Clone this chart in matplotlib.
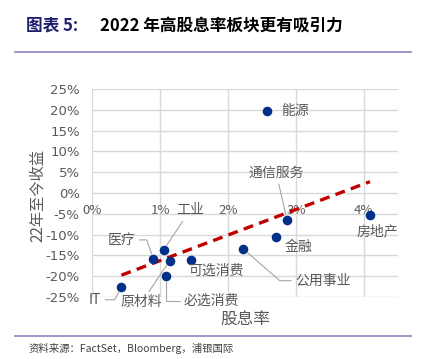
import numpy as np
import matplotlib
matplotlib.use('Agg')
from matplotlib import pyplot as plt
from matplotlib.ticker import FuncFormatter

plt.rcParams['font.family'] = ['Noto Sans CJK SC', 'DejaVu Sans']

# sector, dividend yield (%), 2022 YTD return (%)
sectors = ['能源', '通信服务', '房地产', '金融', '公用事业', '工业',
           '医疗', '原材料', '可选消费', '必选消费', 'IT']
div_yield = [2.57, 2.87, 4.09, 2.70, 2.22, 1.05, 0.90, 1.14, 1.45, 1.09, 0.43]
ytd_return = [19.8, -6.6, -5.2, -10.5, -13.4, -13.7, -15.9, -16.3, -16.1, -19.9, -22.7]

x_ticks = [0, 1, 2, 3, 4]
y_ticks = [-25, -20, -15, -10, -5, 0, 5, 10, 15, 20, 25]

# label placement: (text x, text y, ha, connection style or None for no leader)
label_pos = {
    '能源': (2.78, 19.6, 'left', None),
    '通信服务': (2.71, 4.8, 'center', 'arc3'),
    '房地产': (4.20, -9.3, 'center', None),
    '金融': (3.04, -13.0, 'center', None),
    '公用事业': (3.40, -21.1, 'center', 'angle,angleA=0,angleB=-41,rad=0'),
    '工业': (1.44, -4.2, 'center', 'arc3'),
    '医疗': (0.43, -11.3, 'center', 'angle,angleA=0,angleB=109,rad=0'),
    '原材料': (0.73, -26.3, 'center', 'arc3'),
    '可选消费': (1.82, -18.7, 'center', None),
    '必选消费': (1.76, -26.0, 'center', 'angle,angleA=0,angleB=90,rad=0'),
    'IT': (0.04, -25.7, 'center', 'angle,angleA=0,angleB=61,rad=0'),
}

grey = '#595959'
navy = '#003087'
purple = '#8b84c4'

fig = plt.figure(figsize=(4.25, 3.59), dpi=100)
ax = fig.add_axes([0.217, 0.173, 0.719, 0.579])

ax.scatter(div_yield, ytd_return, s=48, color=navy, zorder=3, linewidths=0)

# linear trend line
coef = np.polyfit(div_yield, ytd_return, 1)
xs = np.array([min(div_yield), max(div_yield)])
ax.plot(xs, np.polyval(coef, xs), color='#c00000', lw=2.4, ls=(0, (3.0, 1.9)), zorder=2)

for name, x, y in zip(sectors, div_yield, ytd_return):
    tx, ty, ha, conn = label_pos[name]
    props = None
    if conn is not None:
        props = dict(arrowstyle='-', color='#a6a6a6', lw=0.8,
                     connectionstyle=conn, shrinkA=1, shrinkB=4)
    ax.annotate(name, xy=(x, y), xytext=(tx, ty), ha=ha, va='center',
                fontsize=10, color=grey, arrowprops=props, zorder=4)

ax.set_xlim(0, 4.5)
ax.set_ylim(-25, 25)
ax.set_xticks(x_ticks)
ax.set_yticks(y_ticks)
ax.xaxis.set_major_formatter(FuncFormatter(lambda v, p: f'{v:.0f}%'))
ax.yaxis.set_major_formatter(FuncFormatter(lambda v, p: f'{v:.0f}%'))
ax.grid(True, color='#d9d9d9', lw=1)
ax.set_axisbelow(True)
for s in ax.spines.values():
    s.set_visible(False)
ax.spines['bottom'].set_position(('data', 0))
ax.tick_params(axis='x', length=0, pad=8, labelsize=9.5, labelcolor=grey)
ax.tick_params(axis='y', length=0, pad=9, labelsize=9.5, labelcolor=grey)
for lab in ax.get_yticklabels():
    lab.set_family('DejaVu Sans')

ax.set_ylabel('22年至今收益', fontsize=11, color=grey)
ax.yaxis.set_label_coords(-0.152, 0.49)
ax.set_xlabel('股息率', fontsize=12, color=grey)
ax.xaxis.set_label_coords(0.5, -0.065)

# title and frame lines
fig.text(0.061, 0.930, '图表 5:', fontsize=12, color='#1f1f6e', fontweight='bold', va='center')
fig.text(0.235, 0.930, '2022 年高股息率板块更有吸引力', fontsize=12, color='black',
         fontweight='bold', va='center')
fig.add_artist(plt.Line2D([0.035, 0.967], [0.855, 0.855], color=purple, lw=1.2))
fig.add_artist(plt.Line2D([0.035, 0.967], [0.064, 0.064], color=purple, lw=1.2))
fig.text(0.066, 0.028, '资料来源：FactSet，Bloomberg，浦银国际', fontsize=7.5,
         color='#404040', va='center')

fig.savefig('out.png', dpi=100)
